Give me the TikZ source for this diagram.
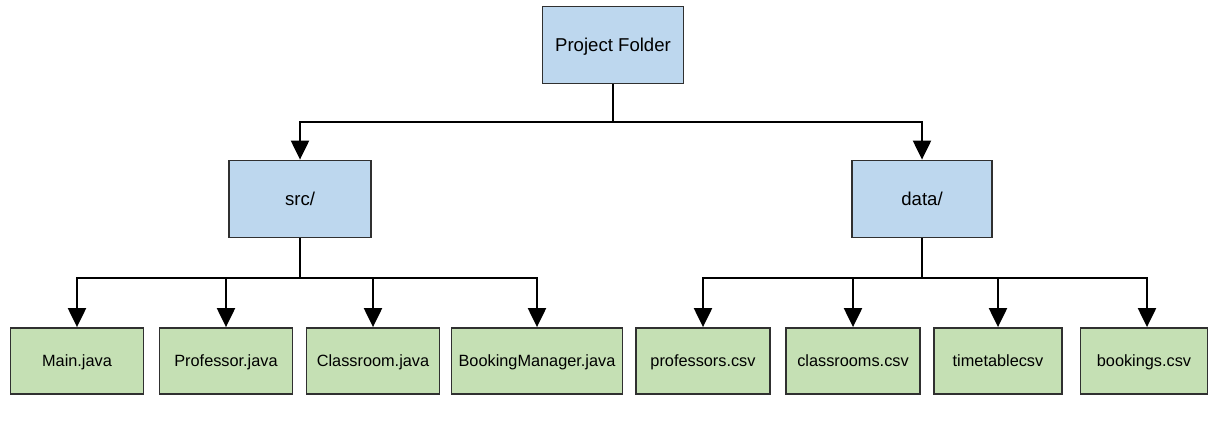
\documentclass[tikz,border=0pt]{standalone}
\usepackage{fontspec}
\setmainfont{Liberation Sans}
\usetikzlibrary{arrows.meta}
\definecolor{folderblue}{HTML}{BDD7EE}
\definecolor{filegreen}{HTML}{C5E0B4}
\definecolor{edgegray}{HTML}{303030}
\tikzset{
  box/.style={draw=edgegray, line width=1.8pt, inner sep=0pt, align=center, text depth=0pt},
  folder/.style={box, fill=folderblue, minimum height=77pt, font=\fontsize{18.6}{22}\selectfont},
  file/.style={box, fill=filegreen, minimum height=66pt, font=\fontsize{16.3}{20}\selectfont},
  link/.style={draw=black, line width=2.2pt},
  arr/.style={link, -{Triangle[length=19pt,width=18pt]}},
}
\begin{document}
\begin{tikzpicture}[x=1pt,y=-1pt]
\useasboundingbox (0,0) rectangle (1211,446);
\node[folder, minimum width=141pt] (proj) at (613,45) {Project Folder};
\node[folder, minimum width=142pt] (src) at (300,199) {src/};
\node[folder, minimum width=140pt] (data) at (922,199) {data/};
\node[file, minimum width=133pt] (main) at (77,361) {Main.java};
\node[file, minimum width=133pt] (prof) at (226,361) {Professor.java};
\node[file, minimum width=133pt] (class) at (373,361) {Classroom.java};
\node[file, minimum width=171pt] (book) at (537,361) {BookingManager.java};
\node[file, minimum width=134pt] (profcsv) at (703,361) {professors.csv};
\node[file, minimum width=134pt] (classcsv) at (853,361) {classrooms.csv};
\node[file, minimum width=128pt] (tt) at (998,361) {timetablecsv};
\node[file, minimum width=127pt] (bookcsv) at (1144,361) {bookings.csv};
\coordinate (jt) at (613,122);
\coordinate (js) at (300,278);
\coordinate (jd) at (922,278);
\draw[link] (proj.south) -- (jt);
\draw[arr] (jt) -| (src.north);
\draw[arr] (jt) -| (data.north);
\draw[link] (src.south) -- (js);
\draw[link] (data.south) -- (jd);
\draw[arr] (js) -| (main.north);
\draw[arr] (js) -| (prof.north);
\draw[arr] (js) -| (class.north);
\draw[arr] (js) -| (book.north);
\draw[arr] (jd) -| (profcsv.north);
\draw[arr] (jd) -| (classcsv.north);
\draw[arr] (jd) -| (tt.north);
\draw[arr] (jd) -| ([xshift=3pt]bookcsv.north);
\end{tikzpicture}
\end{document}
